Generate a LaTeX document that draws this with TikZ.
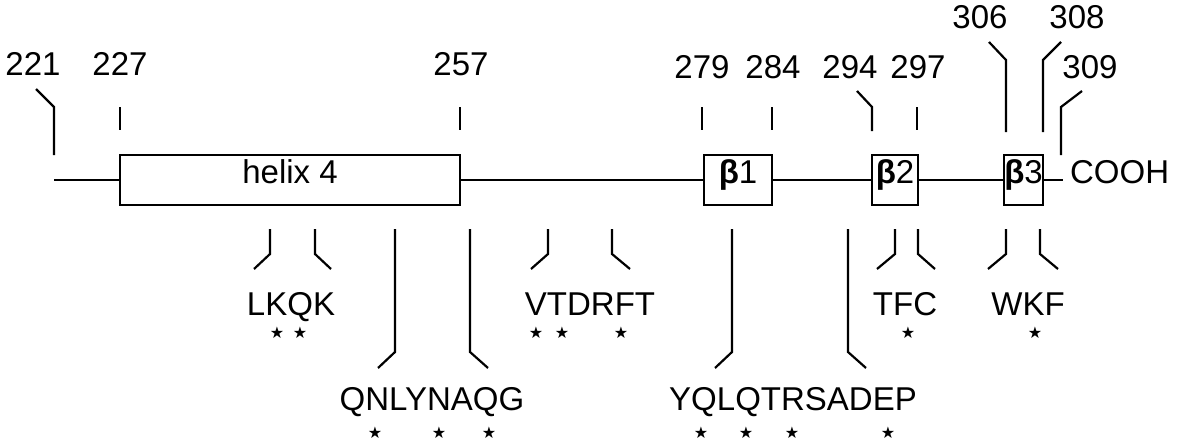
\documentclass[tikz,border=0pt]{standalone}
\usepackage{fontspec}
\setmainfont{Liberation Sans}
\newfontfamily\symfont{DejaVu Sans}
\begin{document}
\begin{tikzpicture}[x=1pt,y=-1pt,line width=2.2pt,
  lbl/.style={font=\fontsize{33}{36}\selectfont, inner sep=0pt, text height=0.72em, text depth=0pt},
  seg/.style={draw, line width=2.2pt, inner sep=0pt, minimum height=50pt},
  lead/.style={line width=2.2pt},
  st/.style={font=\symfont\fontsize{16}{17}\selectfont, inner sep=0pt}]
\useasboundingbox (0,0) rectangle (1188,444);
% domains
\node[seg, lbl, minimum width=340pt] (helix) at (290,180) {helix 4};
\node[seg, lbl, minimum width=68pt] (b1) at (738,180) {\textbf{β}1};
\node[seg, lbl, minimum width=46pt] (b2) at (895,180) {\textbf{β}2};
\node[seg, lbl, minimum width=37pt] (b3) at (1023.5,180) {\textbf{β}3};
\node[lbl, anchor=west, inner xsep=6pt] (cooh) at (1063,180) {COOH};
\coordinate (start) at (54,180);
\draw (start) -- (helix.west);
\draw (helix.east) -- (b1.west);
\draw (b1.east) -- (b2.west);
\draw (b2.east) -- (b3.west);
\draw (b3.east) -- (cooh.west);
% top numbers
\node[lbl] (n221) at (33,72) {221};
\node[lbl] (n227) at (120,72) {227};
\node[lbl] (n257) at (461,72) {257};
\node[lbl] (n279) at (702,75) {279};
\node[lbl] (n284) at (773,75) {284};
\node[lbl] (n294) at (850,75) {294};
\node[lbl] (n297) at (918,75) {297};
\node[lbl] (n306) at (980,25) {306};
\node[lbl] (n308) at (1077,25) {308};
\node[lbl] (n309) at (1090,75) {309};
% top leaders
\draw[lead] (36,89) -- (54,107) -- (54,155);
\draw[lead] (120,107) -- (120,130);
\draw[lead] (460,107) -- (460,130);
\draw[lead] (702,107) -- (702,130);
\draw[lead] (772,107) -- (772,130);
\draw[lead] (857,91) -- (872,107) -- (872,131);
\draw[lead] (917,107) -- (917,130);
\draw[lead] (989,42) -- (1006,60) -- (1006,132);
\draw[lead] (1061,42) -- (1043,60) -- (1043,132);
\draw[lead] (1082,91) -- (1061,107) -- (1061,155);
% bottom labels
\node[lbl] (s1) at (291,312) {LKQK};
\node[lbl] (s2) at (432,407) {QNLYNAQG};
\node[lbl] (s3) at (590,312) {VTDRFT};
\node[lbl] (s4) at (793,407) {YQLQTRSADEP};
\node[lbl] (s5) at (905,312) {TFC};
\node[lbl] (s6) at (1028,312) {WKF};
% bottom leaders
\draw[lead] (270,229) -- (270,254) -- (254,269);
\draw[lead] (315,229) -- (315,254) -- (331,269);
\draw[lead] (395,229) -- (395,352) -- (378,368);
\draw[lead] (470,229) -- (470,352) -- (488,368);
\draw[lead] (548,229) -- (548,254) -- (531,269);
\draw[lead] (612,229) -- (612,254) -- (630,269);
\draw[lead] (732,229) -- (732,352) -- (715,368);
\draw[lead] (848,229) -- (848,352) -- (866,368);
\draw[lead] (895,229) -- (895,254) -- (877,269);
\draw[lead] (918,229) -- (918,254) -- (935,269);
\draw[lead] (1006,229) -- (1006,254) -- (988,269);
\draw[lead] (1040,229) -- (1040,254) -- (1058,269);
% stars
\foreach \x [count=\i] in {277,300,536,562,621,908,1035}
  \node[st] (ua\i) at (\x,333) {★};
\foreach \x [count=\i] in {375,439,489,701,746,792,888}
  \node[st] (la\i) at (\x,433) {★};
\end{tikzpicture}
\end{document}
